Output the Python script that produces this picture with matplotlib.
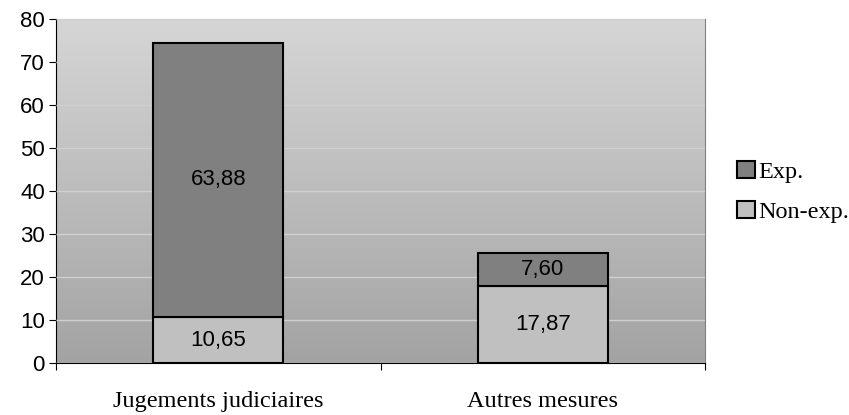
import numpy as np
import matplotlib.pyplot as plt
from matplotlib.colors import LinearSegmentedColormap
from matplotlib.patches import Patch

categories = ['Jugements judiciaires', 'Autres mesures']
non_exp = [10.65, 17.87]
exp_vals = [63.88, 7.60]
series_names = ['Exp.', 'Non-exp.']

fig = plt.figure(figsize=(8.49, 4.15), dpi=100)
ax = fig.add_axes([56 / 849, 1 - 363 / 415, 649 / 849, 344 / 415])

# gradient background of the plot area (light at top, darker at bottom)
grad = np.linspace(0, 1, 256).reshape(-1, 1)
cmap = LinearSegmentedColormap.from_list('g', ['#a3a3a3', '#d6d6d6'])
ax.imshow(grad, cmap=cmap, origin='lower', extent=[-0.5, 1.5, 0, 80], aspect='auto', zorder=0)

x = np.arange(len(categories))
ax.bar(x, non_exp, width=0.4, color='#c0c0c0', edgecolor='black', linewidth=1.5, zorder=3)
ax.bar(x, exp_vals, width=0.4, bottom=non_exp, color='#808080', edgecolor='black', linewidth=1.5, zorder=3)

for i in range(len(categories)):
    ax.text(x[i], non_exp[i] / 2, f'{non_exp[i]:.2f}'.replace('.', ','), ha='center', va='center',
            fontsize=16, family='Liberation Sans', zorder=4)
    ax.text(x[i], non_exp[i] + exp_vals[i] / 2, f'{exp_vals[i]:.2f}'.replace('.', ','), ha='center',
            va='center', fontsize=16, family='Liberation Sans', zorder=4)

ax.set_xlim(-0.5, 1.5)
ax.set_ylim(0, 80)
ax.set_yticks(range(0, 81, 10))
ax.yaxis.grid(True, color='#d0d0d0', linewidth=1, zorder=1)
ax.set_axisbelow(False)

ax.set_xticks([-0.5, 0.5, 1.5], minor=False)
ax.set_xticklabels([])
ax.set_xticks(x, minor=True)
ax.set_xticklabels(categories, minor=True, fontsize=17.5, family='Liberation Serif')
ax.tick_params(axis='x', which='minor', length=0, pad=20.5)
ax.tick_params(axis='x', which='major', length=5, direction='out')
ax.tick_params(axis='y', length=5, direction='out', labelsize=16, pad=3)
for lab in ax.get_yticklabels():
    lab.set_family('Liberation Sans')

for side in ['top', 'right']:
    ax.spines[side].set_color('#808080')
ax.spines['left'].set_color('black')
ax.spines['bottom'].set_color('black')

handles = [Patch(facecolor='#808080', edgecolor='black', linewidth=1.5),
           Patch(facecolor='#c0c0c0', edgecolor='black', linewidth=1.5)]
fig.legend(handles, series_names, loc='center left', bbox_to_anchor=(725 / 849, 1 - 192 / 415),
           frameon=False, prop={'family': 'Liberation Serif', 'size': 17.5},
           handlelength=0.72, handleheight=0.72, handletextpad=0.15, labelspacing=0.75,
           borderpad=0)

fig.savefig('out.png', dpi=100)
